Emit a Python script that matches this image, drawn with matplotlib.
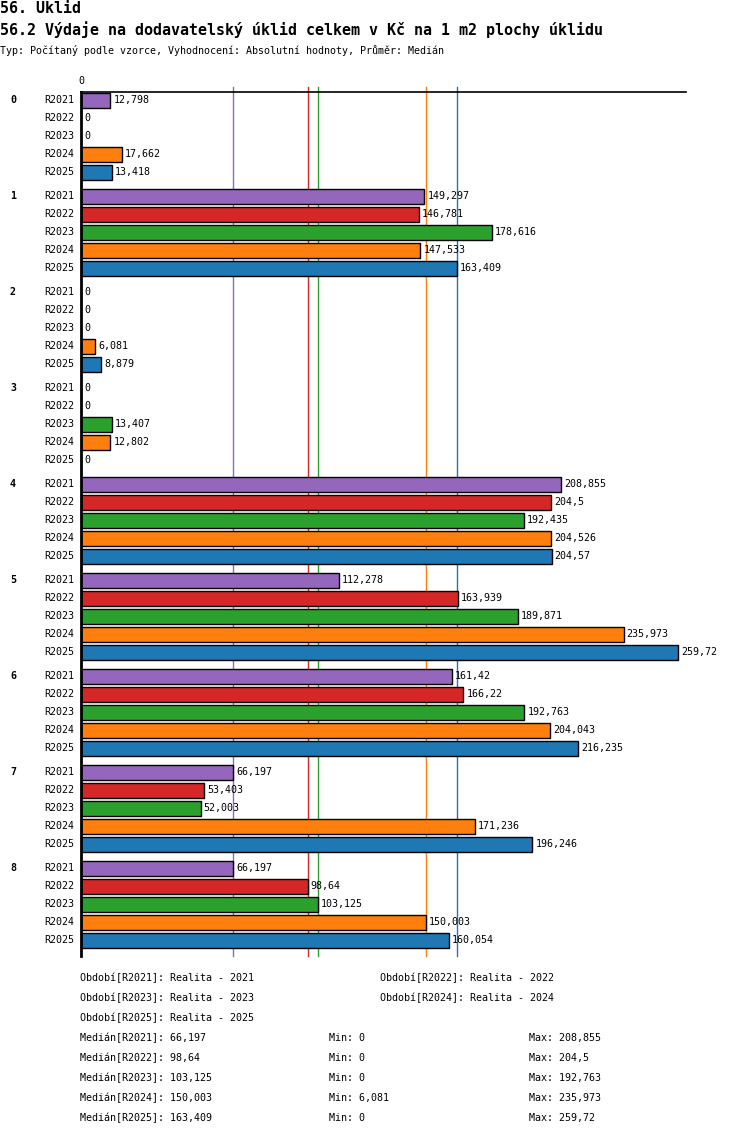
import matplotlib
matplotlib.use("Agg")
import matplotlib.pyplot as plt
from matplotlib.transforms import blended_transform_factory, IdentityTransform

categories = ["0", "1", "2", "3", "4", "5", "6", "7", "8"]
series_names = ["R2021", "R2022", "R2023", "R2024", "R2025"]
R2021 = [12.798, 149.297, 0, 0, 208.855, 112.278, 161.42, 66.197, 66.197]
R2022 = [0, 146.781, 0, 0, 204.5, 163.939, 166.22, 53.403, 98.64]
R2023 = [0, 178.616, 0, 13.407, 192.435, 189.871, 192.763, 52.003, 103.125]
R2024 = [17.662, 147.533, 6.081, 12.802, 204.526, 235.973, 204.043, 171.236, 150.003]
R2025 = [13.418, 163.409, 8.879, 0, 204.57, 259.72, 216.235, 196.246, 160.054]
series = [R2021, R2022, R2023, R2024, R2025]
colors = ["#9467bd", "#d62728", "#2ca02c", "#ff7f0e", "#1f77b4"]
medians = [66.197, 98.64, 103.125, 150.003, 163.409]
mins = [0, 0, 0, 6.081, 0]
maxs = [208.855, 204.5, 192.763, 235.973, 259.72]
period_labels = ["Realita - 2021", "Realita - 2022", "Realita - 2023",
                 "Realita - 2024", "Realita - 2025"]

title1 = "56. Úklid"
title2 = "56.2 Výdaje na dodavatelský úklid celkem v Kč na 1 m2 plochy úklidu"
subtitle = "Typ: Počítaný podle vzorce, Vyhodnocení: Absolutní hodnoty, Průměr: Medián"


def fmt(v):
    s = ("%.3f" % v).rstrip("0").rstrip(".")
    return s.replace(".", ",")


W, H = 750, 1136
DPI = 100
FONT = "DejaVu Sans Mono"
plt.rcParams["font.family"] = [FONT, "DejaVu Sans"]

fig = plt.figure(figsize=(W / DPI, H / DPI), dpi=DPI)

ax_left, ax_right, ax_top, ax_bottom = 81, 686, 92, 956
ax = fig.add_axes([ax_left / W, 1 - ax_bottom / H, (ax_right - ax_left) / W,
                   (ax_bottom - ax_top) / H])
scale = 2.3  # px per unit
ax.set_xlim(0, (ax_right - ax_left) / scale)
ax.set_ylim(ax_bottom, ax_top)  # data y = pixel y from top

for s in ["right", "bottom"]:
    ax.spines[s].set_visible(False)
ax.spines["left"].set_linewidth(2)
ax.spines["top"].set_linewidth(1.2)
ax.set_xticks([])
ax.set_yticks([])

row0, row_step, group_step, bar_h = 100, 18, 96, 15

# median lines
for m, c in zip(medians, colors):
    ax.plot([m, m], [ax_bottom, 87], color=c, lw=1, zorder=1, clip_on=False)

xpix = blended_transform_factory(IdentityTransform(), ax.transData)
for g, cat in enumerate(categories):
    ax.text(10, row0 + g * group_step, cat, transform=xpix, fontsize=7.2,
            fontweight="bold", ha="left", va="center")
    for r, (name, vals, c) in enumerate(zip(series_names, series, colors)):
        y = row0 + g * group_step + r * row_step
        v = vals[g]
        if v > 0:
            ax.barh(y, v, height=bar_h, color=c, edgecolor="black", lw=1,
                    zorder=2)
        ax.annotate(fmt(v), (v, y), xytext=(3, 0), textcoords="offset pixels",
                    fontsize=7.2, ha="left", va="center", zorder=3)
        ax.text(74, y, name, transform=xpix, fontsize=7.2, ha="right",
                va="center")

ax.text(0, 84, "0", fontsize=7.2, ha="center", va="baseline", clip_on=False)


def ftext(x, y, s, **kw):
    fig.text(x / W, 1 - y / H, s, **kw)


ftext(0, 12.7, title1, fontsize=10.8, fontweight="bold", va="baseline")
ftext(0, 35, title2, fontsize=10.8, fontweight="bold", va="baseline")
ftext(0, 54, subtitle, fontsize=7.2, va="baseline")

fs = 7.2
# period legend
pos = [(80, 978), (380, 978), (80, 998), (380, 998), (80, 1018)]
for (x, y), name, lab in zip(pos, series_names, period_labels):
    ftext(x, y, "Období[%s]: %s" % (name, lab), fontsize=fs, va="center")
for i, name in enumerate(series_names):
    y = 1038 + 20 * i
    ftext(80, y, "Medián[%s]: %s" % (name, fmt(medians[i])), fontsize=fs,
          va="center")
    ftext(329, y, "Min: %s" % fmt(mins[i]), fontsize=fs, va="center")
    ftext(529, y, "Max: %s" % fmt(maxs[i]), fontsize=fs, va="center")

fig.savefig("out.png", dpi=DPI)
